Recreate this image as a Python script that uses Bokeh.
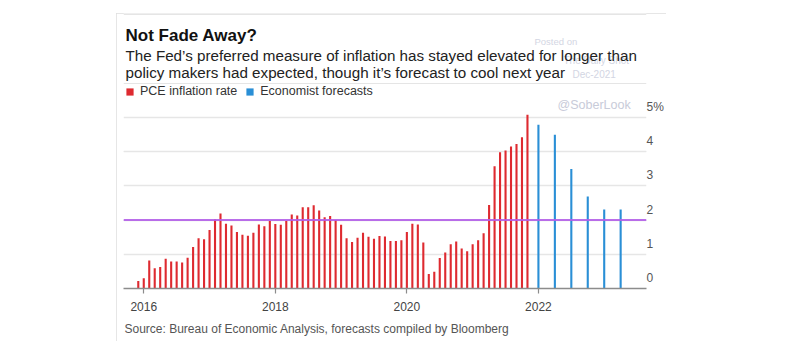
import pandas as pd
from bokeh.plotting import figure
from bokeh.layouts import column, row
from bokeh.models import (ColumnDataSource, Range1d, FixedTicker, Grid, Span, Label,
                          Legend, LegendItem, LinearAxis, Title, Spacer)
from bokeh.embed import file_html
from bokeh.resources import INLINE

# ---------------- data ----------------
pce_start, pce_end = "2015-11", "2021-10"
pce_values = [0.22, 0.30, 0.82, 0.59, 0.63, 0.87, 0.79, 0.79, 0.76, 0.90, 1.21, 1.47,
              1.44, 1.71, 2.02, 2.19, 1.89, 1.84, 1.65, 1.57, 1.54, 1.63, 1.87, 1.82,
              1.97, 1.88, 1.86, 1.97, 2.16, 2.13, 2.37, 2.37, 2.43, 2.28, 2.08, 2.12,
              2.00, 1.86, 1.47, 1.36, 1.48, 1.63, 1.51, 1.45, 1.53, 1.52, 1.39, 1.39,
              1.41, 1.65, 1.89, 1.87, 1.34, 0.42, 0.49, 0.89, 1.05, 1.29, 1.37, 1.17,
              1.09, 1.29, 1.41, 1.61, 2.44, 3.57, 3.98, 4.03, 4.15, 4.22, 4.42, 5.07]
forecast_quarters = ["2021Q4", "2022Q1", "2022Q2", "2022Q3", "2022Q4", "2023Q1"]
forecast_values = [4.78, 4.49, 3.49, 2.69, 2.31, 2.31]
fed_target = 2
x_ticks = [2016, 2018, 2020, 2022]
x_tick_labels = ["2016", "2018", "2020", "2022"]
y_ticks = [0, 1, 2, 3, 4, 5]
y_tick_labels = ["0", "1", "2", "3", "4", "5%"]

title = "Not Fade Away?"
subtitle_lines = ["The Fed\u2019s preferred measure of inflation has stayed elevated for longer than",
                  "policy makers had expected, though it\u2019s forecast to cool next year"]
source_text = "Source: Bureau of Economic Analysis, forecasts compiled by Bloomberg"

# positions on a fractional-year axis (values plotted at period end)
months = pd.period_range(pce_start, pce_end, freq="M")
pce_x = [p.year + p.month / 12 for p in months]
quarters = pd.PeriodIndex(forecast_quarters, freq="Q")
fc_x = [p.year + p.quarter * 3 / 12 for p in quarters]

FONT = "Liberation Sans"
RED = "#de2a30"
BLUE = "#2a8fd6"
PURPLE = "#b35ee8"

# the figure is the white "card"; the page around it stays white
p = figure(width=550, height=328, output_backend="svg", toolbar_location=None,
           x_range=Range1d(2015.692, 2023.643), y_range=Range1d(0, 8.03),
           y_axis_location=None, min_border_left=7, min_border_right=19,
           min_border_top=0, min_border_bottom=52)
p.outline_line_color = None
p.background_fill_color = "white"
p.border_fill_color = "white"
p.xgrid.grid_line_color = None
p.styles = {"outline": "1.5px solid #dedede", "outline-offset": "-1px"}

p.add_layout(Grid(dimension=1, ticker=FixedTicker(ticks=y_ticks),
                  grid_line_color="#e6e6e6", grid_line_width=1.5))

ax = p.xaxis[0]
ax.ticker = FixedTicker(ticks=x_ticks)
ax.major_label_overrides = dict(zip(x_ticks, x_tick_labels))
ax.axis_line_color = "#8c8c8c"
ax.axis_line_width = 1.5
ax.major_tick_line_color = "#8c8c8c"
ax.major_tick_line_width = 1.2
ax.major_tick_in = 0
ax.major_tick_out = 5
ax.minor_tick_line_color = None
ax.major_label_standoff = 8
ax.major_label_text_font = FONT
ax.major_label_text_font_size = "12px"
ax.major_label_text_color = "#444444"

# right-hand value labels sit just above their grid lines (Bloomberg style)
label_lift = 0.30
y_label_pos = [t + label_lift for t in y_ticks]
yax = LinearAxis(ticker=FixedTicker(ticks=y_label_pos),
                 major_label_overrides=dict(zip(y_label_pos, y_tick_labels)),
                 axis_line_color=None, major_tick_line_color=None,
                 minor_tick_line_color=None, major_label_standoff=-6,
                 major_label_text_font=FONT, major_label_text_font_size="12px",
                 major_label_text_color="#555555")
p.add_layout(yax, "right")

src_pce = ColumnDataSource(dict(x=pce_x, top=pce_values))
src_fc = ColumnDataSource(dict(x=fc_x, top=forecast_values))
r_pce = p.vbar(x="x", top="top", bottom=0, width=0.032, source=src_pce,
               fill_color=RED, line_color=None)
r_fc = p.vbar(x="x", top="top", bottom=0, width=0.032, source=src_fc,
              fill_color=BLUE, line_color=None)

p.add_layout(Span(location=fed_target, dimension="width", line_color=PURPLE,
                  line_width=2, line_alpha=0.9))

legend = Legend(items=[LegendItem(label="PCE inflation rate", renderers=[r_pce]),
                       LegendItem(label="Economist forecasts", renderers=[r_fc])],
                orientation="horizontal", location=(2, 190), glyph_width=9,
                glyph_height=9, label_height=9, label_standoff=6, spacing=8,
                padding=0, margin=0, border_line_color=None,
                background_fill_alpha=0, label_text_font=FONT,
                label_text_font_size="12.5px", label_text_color="#333333")
p.add_layout(legend)

p.add_layout(Title(text=source_text, align="left", offset=1, standoff=12,
                   text_font=FONT, text_font_size="12px", text_font_style="normal",
                   text_color="#555555"), "below")


def lab(text, x, y, size, color, style="normal"):
    p.add_layout(Label(x=x, y=y, x_units="canvas", y_units="canvas", text=text,
                       text_font=FONT, text_font_size=size, text_color=color,
                       text_font_style=style, text_baseline="alphabetic",
                       text_align="left"))


# faint watermarks
lab("Posted on", 418, 28, "9.5px", "#d3d6e3")
lab("The Daily Shot", 447, 47, "10px", "#d3d6e3")
lab("Dec-2021", 456, 61, "10px", "#d3d6e3")
lab("@SoberLook", 441, 91, "12.5px", "#c8cbd9")

lab(title, 9, 21.5, "17px", "#111111", "bold")
lab(subtitle_lines[0], 9, 42, "15.2px", "#222222")
lab(subtitle_lines[1], 9, 59, "15.2px", "#222222")

page = column(Spacer(height=13), row(Spacer(width=116), p))
open("out.html", "w").write(file_html(page, INLINE))
